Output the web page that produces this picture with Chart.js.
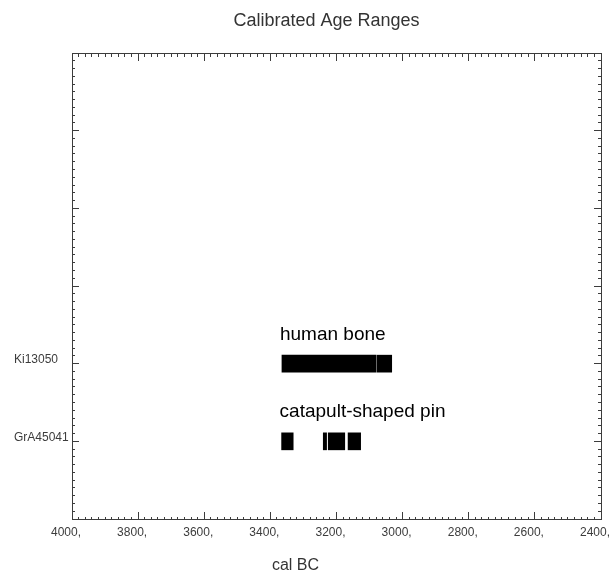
<!DOCTYPE html>
<html><head><meta charset="utf-8">
<script src="https://cdn.jsdelivr.net/npm/chart.js@4"></script>
<style>html,body{margin:0;padding:0;background:#fff;}</style>
</head><body>
<canvas id="c" width="614" height="575"></canvas>
<script>
// ---- data ----
const chartTitle = 'Calibrated Age Ranges';
const xAxisTitle = 'cal BC';
const sampleLabels = ['GrA45041', 'Ki13050'];           // lab codes, rows 1 and 2
const sampleRows = [1, 2];
const sampleNames = ['catapult-shaped pin', 'human bone'];
const catapultPinRanges = [[3366, 3331], [3240, 3230], [3225, 3175], [3165, 3127]];
const humanBoneRanges = [[3365, 3080], [3077, 3033]];
const xMajorTicks = [4000, 3800, 3600, 3400, 3200, 3000, 2800, 2600, 2400];
const yMajorTicks = [0, 1, 2, 3, 4, 5, 6];

// ---- styling ----
const FONT = '"Liberation Sans", Arial, sans-serif';
const INK = '#3c3c3c';
const MAJOR = 7, MINOR = 3;
const xMinorTicks = []; for (let v = 2400; v <= 4000; v += 20) xMinorTicks.push(v);
const yMinorTicks = []; for (let i = 0; i <= 60; i++) yMinorTicks.push(i / 10);

const xBase = { type: 'linear', min: 2400, max: 4000, reverse: true, offset: false };
const yBase = { type: 'linear', min: 0, max: 6, offset: false };
const setTicks = arr => s => { s.ticks = arr.map(v => ({ value: v })); };
const fixSize = (w, h) => s => {
  if (w != null) s.width = w;
  if (h != null) s.height = h;
  s.paddingLeft = s.paddingRight = s.paddingTop = s.paddingBottom = 0;
};
function frame(base, pos, ticksArr, len) {
  return Object.assign({}, base, {
    position: pos,
    afterBuildTicks: setTicks(ticksArr),
    afterFit: fixSize(null, null),
    ticks: { display: false },
    grid: { drawOnChartArea: false, offset: false, tickLength: len, tickColor: INK, tickWidth: 1 },
    border: { display: true, color: INK, width: 1 }
  });
}

const textPlugin = {
  id: 'texts',
  afterDatasetsDraw(chart) {
    const { ctx, scales: { x, y } } = chart;
    const firstStarts = [catapultPinRanges[0][0], humanBoneRanges[0][0]];
    ctx.save();
    ctx.fillStyle = '#000';
    ctx.font = '19px ' + FONT;
    ctx.textAlign = 'left';
    ctx.textBaseline = 'alphabetic';
    sampleNames.forEach((n, i) => {
      ctx.fillText(n, x.getPixelForValue(firstStarts[i]) - 2, y.getPixelForValue(sampleRows[i]) - 24);
    });
    ctx.restore();
  },
  afterDraw(chart) {
    const { ctx, chartArea } = chart;
    const cx = (chartArea.left + chartArea.right) / 2;
    ctx.save();
    ctx.fillStyle = '#333';
    ctx.textAlign = 'center';
    ctx.textBaseline = 'middle';
    ctx.font = '18px ' + FONT;
    ctx.fillText(chartTitle, cx - 10, 21);
    ctx.font = '16px ' + FONT;
    ctx.fillText(xAxisTitle, cx - 41, 566);
    ctx.restore();
  }
};

const rangeData = (ranges, row) => ranges.map(r => ({ x: r, y: row }));

new Chart(document.getElementById('c'), {
  type: 'bar',
  data: {
    datasets: [
      { label: sampleNames[0], data: rangeData(catapultPinRanges, sampleRows[0]),
        backgroundColor: '#000', borderWidth: 0, barThickness: 17, grouped: false },
      { label: sampleNames[1], data: rangeData(humanBoneRanges, sampleRows[1]),
        backgroundColor: '#000', borderWidth: 0, barThickness: 17, grouped: false }
    ]
  },
  plugins: [textPlugin],
  options: {
    responsive: false,
    animation: false,
    indexAxis: 'y',
    layout: { padding: { left: 14, top: 53, right: 13, bottom: 0 } },
    plugins: { legend: { display: false }, tooltip: { enabled: false }, title: { display: false } },
    scales: {
      x: Object.assign({}, xBase, {
        position: 'bottom',
        afterBuildTicks: setTicks(xMajorTicks),
        afterFit: fixSize(null, 56),
        ticks: { padding: 13, labelOffset: -6, color: INK, font: { family: FONT, size: 12 },
                 maxRotation: 0, autoSkip: false, callback: v => v + ',' },
        grid: { drawOnChartArea: false, offset: false, tickLength: -MAJOR, tickColor: INK },
        border: { display: true, color: INK }
      }),
      y: Object.assign({}, yBase, {
        position: 'left',
        afterBuildTicks: setTicks(yMajorTicks),
        afterFit: fixSize(58, null),
        ticks: { crossAlign: 'far', labelOffset: -4, color: INK, font: { family: FONT, size: 12 },
                 autoSkip: false,
                 callback: v => { const i = sampleRows.indexOf(v); return i >= 0 ? sampleLabels[i] : ''; } },
        grid: { drawOnChartArea: false, offset: false, tickLength: -MAJOR, tickColor: INK },
        border: { display: true, color: INK }
      }),
      xMinor: frame(xBase, { y: 0 }, xMinorTicks, -MINOR),
      xTop: frame(xBase, { y: 6 }, xMajorTicks, MAJOR),
      xTopMinor: frame(xBase, { y: 6 }, xMinorTicks, MINOR),
      yMinor: frame(yBase, { x: 4000 }, yMinorTicks, -MINOR),
      yRight: frame(yBase, { x: 2400 }, yMajorTicks, MAJOR),
      yRightMinor: frame(yBase, { x: 2400 }, yMinorTicks, MINOR)
    }
  }
});
</script>
</body></html>
